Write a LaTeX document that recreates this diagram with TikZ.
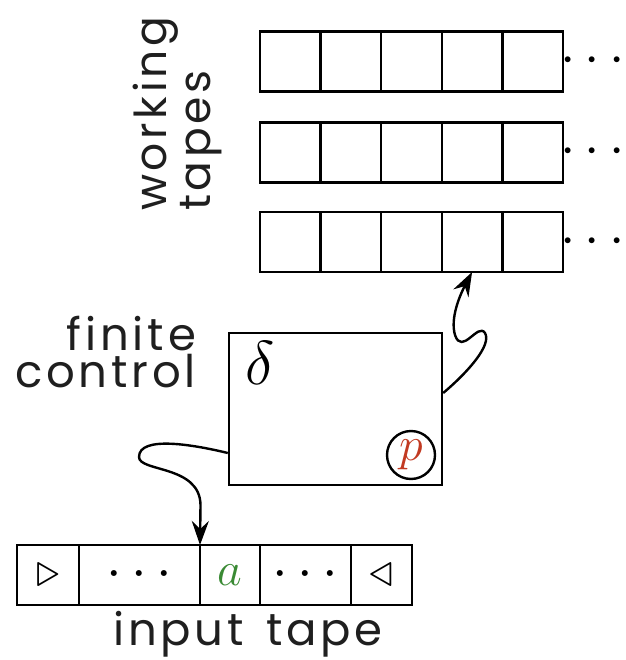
\RequirePackage{fix-cm}
\documentclass[tikz,border=0pt]{standalone}
\usepackage{fontspec}
\setmainfont{Poppins}[LetterSpace=8.5,WordSpace=1.4]
\usetikzlibrary{arrows.meta}
\definecolor{ared}{HTML}{C23A22}
\definecolor{agreen}{HTML}{3A8A34}
\tikzset{
  cell/.style={draw, line width=2.4pt, inner sep=0pt, outer sep=0pt, minimum height=60pt},
  wcell/.style={cell, minimum width=60.6pt},
  conn/.style={line width=2.4pt, -{Stealth[length=24pt,width=17pt,inset=8pt]}},
  lbl/.style={inner sep=0pt, outer sep=0pt, text=black!88, font=\fontsize{45}{45}\selectfont},
  mth/.style={inner sep=0pt, font=\fontsize{55}{55}\selectfont},
}
\begin{document}
\begin{tikzpicture}[x=1pt,y=-1pt]
\useasboundingbox (0,0) rectangle (625,660);
% working tapes
\foreach \t/\yy in {1/61.5,2/152.5,3/242} {
  \foreach \c/\xx in {1/290.3,2/350.9,3/411.5,4/472.1,5/532.7} {
    \node[wcell] (w\t c\c) at (\xx,\yy) {};
  }
  \node[mth] (wd\t) at (592.5,\yy) {$\cdots$};
}
\node[lbl, rotate=90, align=left, anchor=base west, font=\fontsize{44}{31}\selectfont] (wt) at (210,211) {working\\tapes};
% finite control
\node[draw, line width=2.4pt, minimum width=213pt, minimum height=152pt, inner sep=0pt] (fc) at (335.5,409) {};
\node[inner sep=0pt, font=\fontsize{62}{62}\selectfont, anchor=north west] (delta) at (245,341) {$\delta$};
\node[draw, circle, line width=2.4pt, minimum size=48pt, inner sep=0pt, text=ared, font=\fontsize{48}{48}\selectfont] (p) at (411,455) {$p$};
\node[lbl, align=right, anchor=base east, font=\fontsize{45}{37}\selectfont] (fcl) at (196,387) {finite\\control};
% input tape
\node[cell, minimum width=62pt] (i1) at (48,575) {\fontsize{48}{48}\selectfont$\triangleright$};
\node[cell, minimum width=121pt] (i2) at (139.5,575) {\fontsize{56}{56}\selectfont$\cdots$};
\node[cell, minimum width=60pt, text=agreen] (i3) at (230,575) {\fontsize{48}{48}\selectfont$a$};
\node[cell, minimum width=91pt] (i4) at (305.5,575) {\fontsize{56}{56}\selectfont$\cdots$};
\node[cell, minimum width=61pt] (i5) at (381.5,575) {\fontsize{48}{48}\selectfont$\triangleleft$};
\node[lbl, anchor=base] (itl) at (248,645) {input tape};
% connectors
\draw[conn] (fc.west |- 0,453) .. controls (195,445) and (139,435) .. (139,457)
  .. controls (139,472) and (200,465) .. (200.5,505) -- (i3.north west);
\draw[conn] (fc.east |- 0,393) .. controls (468,372) and (492,345) .. (485,333)
  .. controls (478,322) and (462,356) .. (455,335)
  .. controls (450,318) and (460,295) .. (w3c4.south);
\end{tikzpicture}
\end{document}
